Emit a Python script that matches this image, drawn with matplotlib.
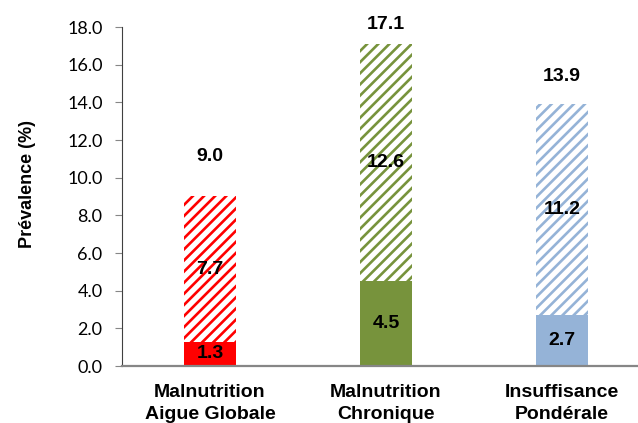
import matplotlib.pyplot as plt

categories = ["Malnutrition\nAigue Globale", "Malnutrition\nChronique", "Insuffisance\nPondérale"]
severe = [1.3, 4.5, 2.7]
moderate = [7.7, 12.6, 11.2]
totals = [9.0, 17.1, 13.9]
y_ticks = [0.0, 2.0, 4.0, 6.0, 8.0, 10.0, 12.0, 14.0, 16.0, 18.0]

COLORS = ["#FF0000", "#77933C", "#95B3D7"]
# gap between bar top and the total label, in points
TOTAL_OFFSETS = [29, 14, 20]

plt.rcParams["hatch.linewidth"] = 1.9

fig = plt.figure(figsize=(6.38, 4.23), dpi=100)
ax = fig.add_axes([122 / 638, 1 - 366 / 423, 528 / 638, 339 / 423])

x = list(range(len(categories)))
width = 0.30

ax.bar(x, severe, width=width, color=COLORS, edgecolor="none")
for i in x:
    ax.bar(i, moderate[i], bottom=severe[i], width=width, facecolor="white",
           edgecolor=COLORS[i], hatch="///", linewidth=0)

bold = dict(fontfamily="Liberation Sans", fontweight="bold", fontsize=14, color="black")
for i in x:
    ax.text(i, severe[i] / 2, f"{severe[i]:.1f}", ha="center", va="center", **bold)
    ax.text(i, severe[i] + moderate[i] / 2, f"{moderate[i]:.1f}", ha="center", va="center", **bold)
    ax.annotate(f"{totals[i]:.1f}", (i, totals[i]), xytext=(0, TOTAL_OFFSETS[i]),
                textcoords="offset points", ha="center", va="center",
                annotation_clip=False, **bold)

ax.set_xlim(-0.5, 2.5)
ax.set_ylim(0, 18)
ax.set_yticks(y_ticks)
ax.set_yticklabels([f"{v:.1f}" for v in y_ticks], fontfamily="Lato", fontsize=13)
ax.tick_params(axis="y", length=5, width=0.8, color="#868686", pad=9)
ax.set_xticks(x)
ax.set_xticklabels(categories, fontfamily="Liberation Sans", fontweight="bold",
                   fontsize=14, linespacing=1.35)
ax.tick_params(axis="x", length=0, pad=13)

ax.set_ylabel("Prévalence (%)", fontfamily="Liberation Sans", fontweight="bold",
              fontsize=13)
ax.yaxis.set_label_coords(-0.162, 0.538)

ax.spines["top"].set_visible(False)
ax.spines["right"].set_visible(False)
ax.spines["left"].set_color("#404040")
ax.spines["left"].set_linewidth(0.8)
ax.spines["bottom"].set_color("#868686")
ax.spines["bottom"].set_linewidth(1.6)

fig.savefig("out.png", dpi=100)
